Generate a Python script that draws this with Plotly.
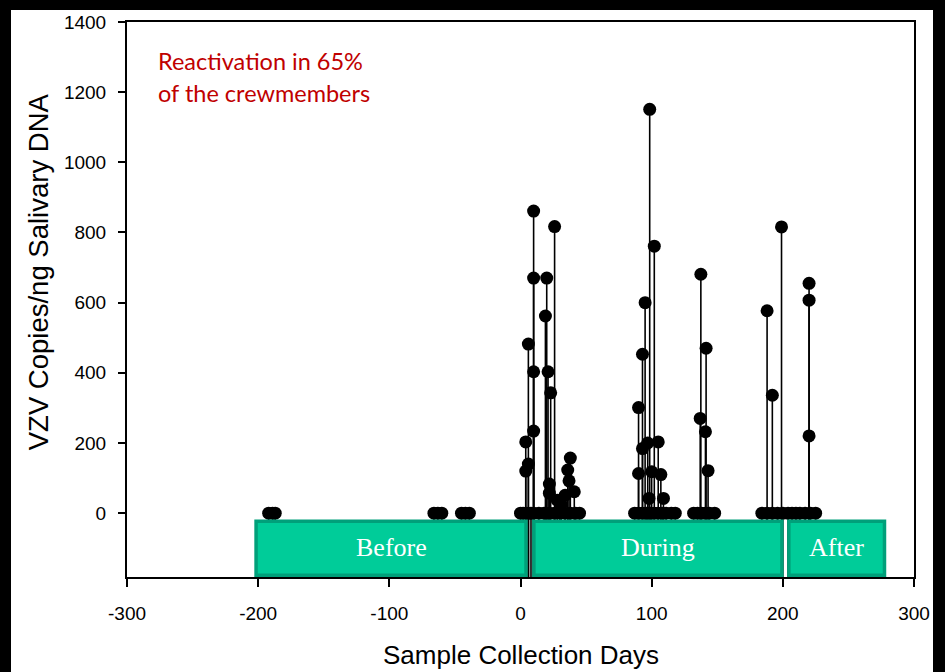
import plotly.graph_objects as go

# ---------------- data ----------------
days = [
    -192, -189, -187, -66, -63, -60, -45, -42, -39,
    0, 2, 4, 6, 8, 10, 14, 18, 22, 26, 30, 34, 38, 42, 45,
    4, 4, 6, 6, 10, 10, 10, 10, 19, 20, 21, 22, 22, 23, 26, 28, 31, 34, 36, 37, 38, 41,
    87, 90, 93, 96, 99, 102, 105, 108, 111, 115, 118,
    90, 90, 93, 93, 95, 97, 98, 98.5, 100, 102, 105, 107, 109,
    132, 135, 138, 141, 144, 148,
    137.5, 137, 141.5, 141, 143,
    184, 188, 192, 196, 200, 204, 207,
    188, 192, 199,
    210, 213, 217, 221, 225,
    220, 220, 220,
]
copies = [
    0, 0, 0, 0, 0, 0, 0, 0, 0,
    0, 0, 0, 0, 0, 0, 0, 0, 0, 0, 0, 0, 0, 0, 0,
    203, 120, 482, 140, 861, 670, 403, 234, 562, 670, 403, 83, 57, 343, 817, 37, 25, 51, 123, 92, 157, 61,
    0, 0, 0, 0, 0, 0, 0, 0, 0, 0, 0,
    301, 113, 453, 184, 600, 200, 42, 1151, 118, 761, 203, 110, 42,
    0, 0, 0, 0, 0, 0,
    681, 270, 470, 232, 121,
    0, 0, 0, 0, 0, 0, 0,
    577, 336, 816,
    0, 0, 0, 0, 0,
    655, 607, 220,
]

phase_names = ["Before", "During", "After"]
phase_start = [-201.6, 10.2, 204.6]
phase_end = [4.2, 199.3, 277.5]

x_ticks = [-300, -200, -100, 0, 100, 200, 300]
y_ticks = [0, 200, 400, 600, 800, 1000, 1200, 1400]

X_RANGE = [-300, 300]
Y_RANGE = [-182, 1400]

# ---------------- figure ----------------
stem_x, stem_y = [], []
for d, v in zip(days, copies):
    stem_x += [d, d, None]
    stem_y += [Y_RANGE[0], v, None]

fig = go.Figure()
fig.add_trace(go.Scatter(
    x=stem_x, y=stem_y, mode="lines",
    line=dict(color="black", width=1.6),
    hoverinfo="skip", showlegend=False,
))
fig.add_trace(go.Scatter(
    x=days, y=copies, mode="markers",
    marker=dict(color="black", size=13, line=dict(width=0)),
    showlegend=False,
))

box_top = -23
box_bot = -177
for name, s, e in zip(phase_names, phase_start, phase_end):
    fig.add_shape(type="rect", xref="x", yref="y", x0=s, x1=e, y0=box_bot, y1=box_top,
                  fillcolor="#00CC99", line=dict(color="#00A07A", width=3.5), layer="above")
    fig.add_annotation(x=(s + e) / 2, y=(box_top + box_bot) / 2 + 2, xref="x", yref="y",
                       text=name, showarrow=False,
                       font=dict(family="Liberation Serif, Times New Roman, serif", size=26, color="white"))

# red note
fig.add_annotation(x=0.0368, y=0.9297, xref="paper", yref="paper", xanchor="left", yanchor="middle",
                   text="Reactivation in 65%", showarrow=False,
                   font=dict(family="Lato, Open Sans, sans-serif", size=23.5, color="#C00000"))
fig.add_annotation(x=0.0368, y=0.872, xref="paper", yref="paper", xanchor="left", yanchor="middle",
                   text="of the crewmembers", showarrow=False,
                   font=dict(family="Lato, Open Sans, sans-serif", size=23.5, color="#C00000"))

# axis titles
fig.add_annotation(x=-0.1128, y=0.5495, xref="paper", yref="paper", xanchor="center", yanchor="middle",
                   text="VZV Copies/ng Salivary DNA", textangle=-90, showarrow=False,
                   font=dict(family="Liberation Sans, Arial, sans-serif", size=27.5, color="black"))
fig.add_annotation(x=0.5, y=-0.1405, xref="paper", yref="paper", xanchor="center", yanchor="middle",
                   text="Sample Collection Days", showarrow=False,
                   font=dict(family="Liberation Sans, Arial, sans-serif", size=26, color="black"))

# black frame of the image (plot area spans 127..914 px horizontally)
W = 914 - 127
for x0, x1, y0, y1 in [(-0.3, (11 - 127) / W, -0.3, 1.2),
                       ((933 - 127) / W, 1.3, -0.3, 1.2),
                       (-0.3, 1.3, 1.0216, 1.2)]:
    fig.add_shape(type="rect", xref="paper", yref="paper", x0=x0, x1=x1, y0=y0, y1=y1,
                  fillcolor="black", line=dict(width=0), layer="above")

fig.update_xaxes(range=X_RANGE, tickvals=x_ticks, ticktext=[str(t) for t in x_ticks],
                 showgrid=False, zeroline=False, showline=True, mirror=True,
                 linecolor="black", linewidth=2, ticks="outside", ticklen=8, tickwidth=1.5,
                 tickcolor="black", ticklabelstandoff=10,
                 tickfont=dict(family="Liberation Sans, Arial, sans-serif", size=19, color="black"))
fig.update_yaxes(range=Y_RANGE, tickvals=y_ticks, ticktext=[str(t) for t in y_ticks],
                 showgrid=False, zeroline=False, showline=True, mirror=True,
                 linecolor="black", linewidth=2, ticks="outside", ticklen=7, tickwidth=1.5,
                 tickcolor="black", ticklabelstandoff=8,
                 tickfont=dict(family="Liberation Sans, Arial, sans-serif", size=19, color="black"))

fig.update_layout(
    width=945, height=672, autosize=False,
    margin=dict(l=127, r=31, t=22, b=95),
    paper_bgcolor="white", plot_bgcolor="white",
    showlegend=False,
)

fig.write_html("out.html",
               config={"displayModeBar": False},
               post_script="document.body.style.margin='0';document.body.style.padding='0';"
                           "document.documentElement.style.overflow='hidden';")
